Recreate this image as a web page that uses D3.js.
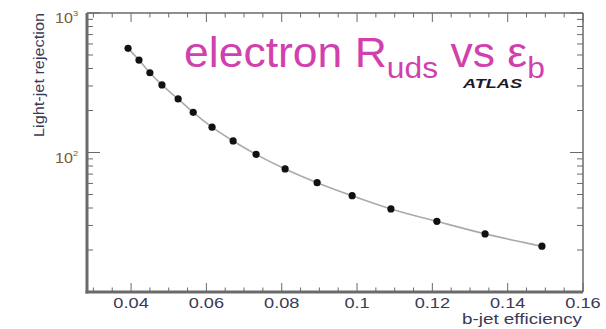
<!DOCTYPE html>
<html><head><meta charset="utf-8">
<script src="https://cdn.jsdelivr.net/npm/d3@7"></script>
<style>body{margin:0;background:#fff}svg{display:block}</style>
</head><body>
<svg id="c" width="606" height="329"></svg>
<script>
const effB = [0.0392,0.0421,0.0450,0.0482,0.0525,0.0565,0.0615,0.0671,0.0732,0.0809,0.0894,0.0987,0.1090,0.1212,0.1340,0.1491];
const rejection = [558,460,373,305,242,194,152,121,97,76.2,60.8,49.0,39.4,32.1,26.1,21.3];
const xTicks = [0.04,0.06,0.08,0.1,0.12,0.14,0.16];
const xTickLabels = ["0.04","0.06","0.08","0.1","0.12","0.14","0.16"];
const yDecades = [10,100,1000];
const yDecadeLabels = [["10","2"],["10","3"]];

const svg = d3.select("#c");
const L=87, R=583, T=13, B=292;
const x = d3.scaleLinear().domain([0.0283,0.16]).range([L,R]);
const y = d3.scaleLog().domain([10,1000]).range([B,T]);
const axisCol="#6a6a6a", txtCol="#3a3a55";
const FF="Liberation Sans, Arial, sans-serif";

const g = svg.append("g");
const xMinor = d3.range(0.030,0.1601,0.005).map(v=>+v.toFixed(3));
xMinor.forEach(v=>{
  const major = xTicks.some(t=>Math.abs(t-v)<1e-6);
  const len = major?9:4.5;
  g.append("line").attr("x1",x(v)).attr("x2",x(v)).attr("y1",B).attr("y2",B-len).attr("stroke",axisCol).attr("stroke-width",1);
  g.append("line").attr("x1",x(v)).attr("x2",x(v)).attr("y1",T).attr("y2",T+len).attr("stroke",axisCol).attr("stroke-width",1);
});
const yMinor=[];
[10,100].forEach(d=>{for(let k=2;k<=9;k++) yMinor.push(d*k);});
yMinor.forEach(v=>{
  g.append("line").attr("x1",L).attr("x2",L+6).attr("y1",y(v)).attr("y2",y(v)).attr("stroke",axisCol).attr("stroke-width",1);
  g.append("line").attr("x1",R).attr("x2",R-6).attr("y1",y(v)).attr("y2",y(v)).attr("stroke",axisCol).attr("stroke-width",1);
});
yDecades.forEach(v=>{
  g.append("line").attr("x1",L).attr("x2",L+13).attr("y1",y(v)).attr("y2",y(v)).attr("stroke",axisCol).attr("stroke-width",1);
  g.append("line").attr("x1",R).attr("x2",R-13).attr("y1",y(v)).attr("y2",y(v)).attr("stroke",axisCol).attr("stroke-width",1);
});
g.append("line").attr("x1",L).attr("x2",R).attr("y1",T).attr("y2",T).attr("stroke",axisCol).attr("stroke-width",1.5);
g.append("line").attr("x1",R).attr("x2",R).attr("y1",T).attr("y2",B).attr("stroke",axisCol).attr("stroke-width",1.5);
g.append("line").attr("x1",L).attr("x2",L).attr("y1",T).attr("y2",B+1.5).attr("stroke",axisCol).attr("stroke-width",3);
g.append("line").attr("x1",L-1.5).attr("x2",R).attr("y1",B).attr("y2",B).attr("stroke",axisCol).attr("stroke-width",3);

xTicks.forEach((v,i)=>{
  svg.append("text").attr("transform",`translate(${x(v)},308) scale(1.3,1)`).attr("text-anchor","middle")
    .attr("font-family",FF).attr("font-size",14).attr("fill",txtCol).text(xTickLabels[i]);
});
[100,1000].forEach((v,i)=>{
  const t=svg.append("text").attr("transform",`translate(55,${y(v)+10}) scale(1.15,1)`)
    .attr("font-family",FF).attr("font-size",14).attr("fill","#7a5a30");
  t.append("tspan").text(yDecadeLabels[i][0]);
  t.append("tspan").attr("dy",-7).attr("font-size",8).text(yDecadeLabels[i][1]);
});
svg.append("text").attr("x",462).attr("y",324).attr("textLength",120).attr("lengthAdjust","spacingAndGlyphs")
  .attr("font-family",FF).attr("font-size",14).attr("fill",txtCol).text("b-jet efficiency");
svg.append("text").attr("transform","translate(44,137) rotate(-90)").attr("textLength",124).attr("lengthAdjust","spacingAndGlyphs")
  .attr("font-family",FF).attr("font-size",14).attr("fill",txtCol).text("Light-jet rejection");

const pts = effB.map((e,i)=>[e,rejection[i]]);
svg.append("path").datum(pts).attr("fill","none").attr("stroke","#aaa").attr("stroke-width",1.6)
  .attr("d",d3.line().x(d=>x(d[0])).y(d=>y(d[1])).curve(d3.curveMonotoneX));
svg.selectAll("circle.p").data(pts).enter().append("circle").attr("class","p")
  .attr("cx",d=>x(d[0])).attr("cy",d=>y(d[1])).attr("r",3.6).attr("fill","#111");

svg.append("text").attr("x",463).attr("y",88).attr("textLength",59).attr("lengthAdjust","spacingAndGlyphs")
  .attr("font-family",FF).attr("font-size",13).attr("font-weight","bold").attr("font-style","italic").attr("fill","#1a1a2a").text("ATLAS");

const ti = svg.append("text").attr("transform","translate(184,67) scale(1.06,1)").attr("font-family",FF)
  .attr("font-size",42).attr("fill","#d23fae");
ti.append("tspan").text("electron R");
ti.append("tspan").attr("dy",11).attr("font-size",30).text("uds");
ti.append("tspan").attr("dy",-11).text(" vs ε");
ti.append("tspan").attr("dy",11).attr("font-size",30).text("b");
</script>
</body></html>
